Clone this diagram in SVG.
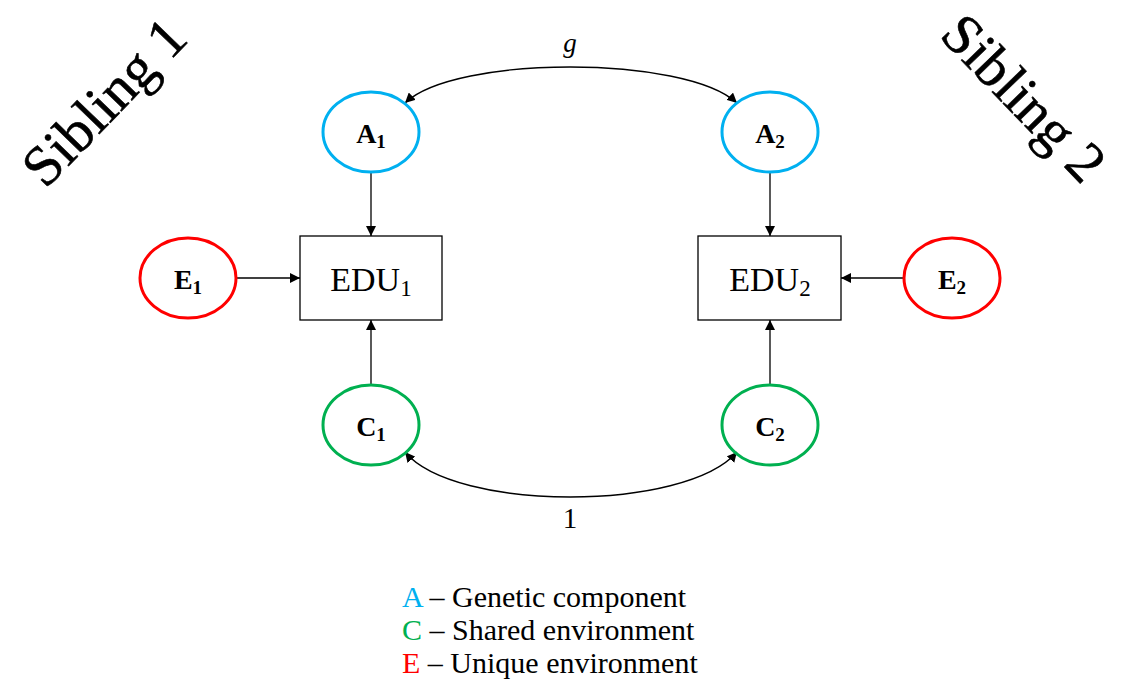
<svg xmlns="http://www.w3.org/2000/svg" width="1122" height="683" viewBox="0 0 1122 683" font-family="'Liberation Serif', 'DejaVu Serif', 'Times New Roman', serif">
<defs>
<marker id="arr" viewBox="0 0 10 10" refX="10" refY="5" markerWidth="10" markerHeight="10" markerUnits="userSpaceOnUse" orient="auto-start-reverse">
<path d="M0,0 L10,5 L0,10 z" fill="#000"/>
</marker>
<style>
text{font-family:'Liberation Serif','DejaVu Serif','Times New Roman',serif;fill:#000}
.lbl{font-size:28px;font-weight:bold;text-anchor:middle}
.edu{font-size:34px;text-anchor:middle}
.sib{font-size:57px;text-anchor:middle;stroke:#000;stroke-width:0.6}
.leg{font-size:30px}
.a{fill:none;stroke:#00B0F0;stroke-width:3}
.c{fill:none;stroke:#00B050;stroke-width:3}
.e{fill:none;stroke:#FF0000;stroke-width:3}
.box{fill:#fff;stroke:#000;stroke-width:1.3}
.con{fill:none;stroke:#000;stroke-width:1.3}
</style>
</defs>
<rect width="1122" height="683" fill="#fff"/>
<g id="sibling1"><text class="sib" transform="translate(104,102) rotate(-46)" y="19">Sibling 1</text></g>
<g id="sibling2"><text class="sib" transform="translate(1024,98) rotate(46)" y="19">Sibling 2</text></g>
<g id="connectors">
<line class="con" x1="371" y1="172" x2="371" y2="236" marker-end="url(#arr)"/>
<line class="con" x1="770" y1="172" x2="770" y2="236" marker-end="url(#arr)"/>
<line class="con" x1="371" y1="385" x2="371" y2="320" marker-end="url(#arr)"/>
<line class="con" x1="770" y1="385" x2="770" y2="320" marker-end="url(#arr)"/>
<line class="con" x1="237" y1="278" x2="300" y2="278" marker-end="url(#arr)"/>
<line class="con" x1="903" y1="278" x2="841" y2="278" marker-end="url(#arr)"/>
<path class="con" d="M405,103 C455,55 685,55 737,103" marker-start="url(#arr)" marker-end="url(#arr)"/>
<path class="con" d="M405,452 C455,512 685,512 737,452" marker-start="url(#arr)" marker-end="url(#arr)"/>
<text x="570" y="52" style="font-size:27px;font-style:italic;text-anchor:middle">g</text>
<text x="570" y="528" style="font-size:29px;text-anchor:middle">1</text>
</g>
<g id="A1"><ellipse class="a" cx="371" cy="132" rx="48" ry="40"/><text class="lbl" x="371" y="143">A<tspan font-size="19" dy="5">1</tspan></text></g>
<g id="A2"><ellipse class="a" cx="770" cy="132" rx="48" ry="40"/><text class="lbl" x="770" y="143">A<tspan font-size="19" dy="5">2</tspan></text></g>
<g id="E1"><ellipse class="e" cx="188" cy="278" rx="48" ry="40"/><text class="lbl" x="188" y="289">E<tspan font-size="19" dy="5">1</tspan></text></g>
<g id="E2"><ellipse class="e" cx="952" cy="278" rx="48" ry="40"/><text class="lbl" x="952" y="289">E<tspan font-size="19" dy="5">2</tspan></text></g>
<g id="C1"><ellipse class="c" cx="371" cy="425" rx="48" ry="40"/><text class="lbl" x="371" y="436">C<tspan font-size="19" dy="5">1</tspan></text></g>
<g id="C2"><ellipse class="c" cx="770" cy="425" rx="48" ry="40"/><text class="lbl" x="770" y="436">C<tspan font-size="19" dy="5">2</tspan></text></g>
<g id="EDU1"><rect class="box" x="300" y="236" width="142" height="84"/><text class="edu" x="371" y="291">EDU<tspan font-size="23" dy="5">1</tspan></text></g>
<g id="EDU2"><rect class="box" x="698" y="236" width="143" height="84"/><text class="edu" x="770" y="291">EDU<tspan font-size="23" dy="5">2</tspan></text></g>
<g id="legend">
<text class="leg" x="402" y="607"><tspan fill="#00B0F0">A</tspan> – Genetic component</text>
<text class="leg" x="402" y="640"><tspan fill="#00B050">C</tspan> – Shared environment</text>
<text class="leg" x="402" y="673"><tspan fill="#FF0000">E</tspan> – Unique environment</text>
</g>
</svg>
